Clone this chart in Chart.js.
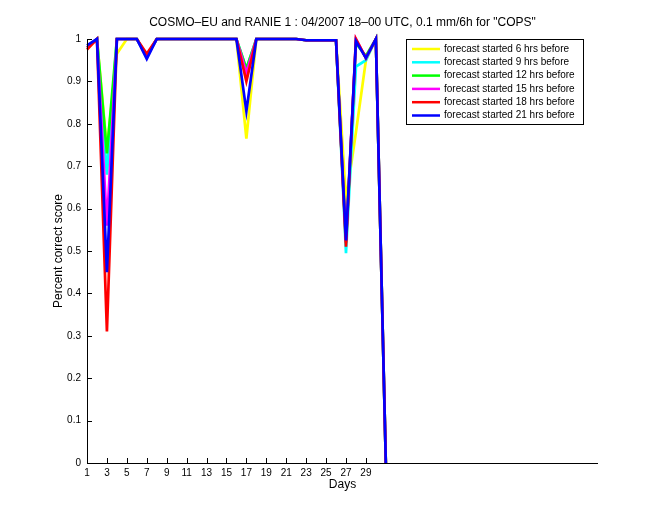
<!DOCTYPE html>
<html><head><meta charset="utf-8">
<script src="https://cdn.jsdelivr.net/npm/chart.js@4.4.1/dist/chart.umd.min.js"></script>
<style>html,body{margin:0;padding:0;background:#fff;}#wrap{width:660px;height:520px;}</style>
</head><body><div id="wrap"><canvas id="c" width="660" height="520"></canvas></div>
<script>
const days = [1,2,3,4,5,6,7,8,9,10,11,12,13,14,15,16,17,18,19,20,21,22,23,24,25,26,27,28,29,30,31];
const xTickValues = [1,3,5,7,9,11,13,15,17,19,21,23,25,27,29];
const yTickValues = [0,0.1,0.2,0.3,0.4,0.5,0.6,0.7,0.8,0.9,1];
const seriesLabels = ["forecast started 6 hrs before","forecast started 9 hrs before","forecast started 12 hrs before","forecast started 15 hrs before","forecast started 18 hrs before","forecast started 21 hrs before"];
const seriesColors = ["#ffff00","#00ffff","#00ff00","#ff00ff","#ff0000","#0000ff"];
const fc6h  = [0.98,1,0.74,0.965,1,1,0.96,1,1,1,1,1,1,1,1,1,0.765,1,1,1,1,1,0.997,0.997,0.997,0.997,0.62,0.78,0.95,1,0];
const fc9h  = [0.98,1,0.68,1,1,1,0.96,1,1,1,1,1,1,1,1,1,0.93,1,1,1,1,1,0.997,0.997,0.997,0.997,0.495,0.935,0.95,1,0];
const fc12h = [0.98,1,0.73,1,1,1,0.96,1,1,1,1,1,1,1,1,1,0.93,1,1,1,1,1,0.997,0.997,0.997,0.997,0.52,0.99,0.96,1,0];
const fc15h = [0.98,1,0.56,1,1,1,0.96,1,1,1,1,1,1,1,1,1,0.92,1,1,1,1,1,0.997,0.997,0.997,0.997,0.52,1,0.955,1,0];
const fc18h = [0.975,1,0.31,1,1,1,0.965,1,1,1,1,1,1,1,1,1,0.90,1,1,1,1,1,0.997,0.997,0.997,0.997,0.51,1,0.955,1,0];
const fc21h = [0.985,1,0.45,1,1,1,0.953,1,1,1,1,1,1,1,1,1,0.83,1,1,1,1,1,0.997,0.997,0.997,0.997,0.525,0.995,0.955,1,0];
const allSeries = [fc6h,fc9h,fc12h,fc15h,fc18h,fc21h];

const FONT = "'Liberation Sans', Arial, Helvetica, sans-serif";

const datasets = allSeries.map((s,i)=>({
  label: seriesLabels[i],
  data: s.map((v,j)=>({x:days[j],y:v})),
  borderColor: seriesColors[i],
  backgroundColor: seriesColors[i],
  borderWidth: 2.7,
  pointRadius: 0,
  tension: 0,
  fill: false,
  clip: false,
  order: allSeries.length - 1 - i
}));

const innerTicks = {
  id:'innerTicks',
  afterDraw(chart){
    const ctx = chart.ctx, ca = chart.chartArea;
    const xs = chart.scales.x, ys = chart.scales.y;
    ctx.save();
    ctx.strokeStyle = '#000'; ctx.lineWidth = 1;
    ctx.beginPath();
    ctx.moveTo(ca.left+0.5, ca.top); ctx.lineTo(ca.left+0.5, ca.bottom+0.5); ctx.lineTo(ca.right, ca.bottom+0.5);
    xTickValues.forEach(v=>{const p=Math.round(xs.getPixelForValue(v))+0.5; ctx.moveTo(p,ca.bottom); ctx.lineTo(p,ca.bottom-5);});
    yTickValues.forEach(v=>{const p=Math.round(ys.getPixelForValue(v))+0.5; ctx.moveTo(ca.left,p); ctx.lineTo(ca.left+5,p);});
    ctx.stroke();
    // legend
    const bx=406.5, by=39.5, bw=177, bh=85;
    ctx.fillStyle='#fff'; ctx.fillRect(bx,by,bw,bh);
    ctx.strokeRect(bx,by,bw,bh);
    ctx.font = "10px "+FONT; ctx.textBaseline='middle'; ctx.textAlign='left';
    chart.data.datasets.forEach((d,i)=>{
      const y = 49 + i*13.3;
      ctx.strokeStyle=d.borderColor; ctx.lineWidth=2.5;
      ctx.beginPath(); ctx.moveTo(412,y); ctx.lineTo(440,y); ctx.stroke();
      ctx.fillStyle='#000'; ctx.fillText(d.label, 444, y);
    });
    ctx.restore();
  }
};

new Chart(document.getElementById('c'), {
  type:'line',
  data:{datasets},
  options:{
    responsive:false, animation:false,
    layout:{padding:{left:51,right:62,top:0,bottom:0}},
    plugins:{
      legend:{display:false},
      tooltip:{enabled:false},
      title:{display:true, fullSize:false, text:'COSMO–EU and RANIE 1 : 04/2007 18–00 UTC, 0.1 mm/6h for "COPS"', color:'#000', font:{family:FONT,size:12,weight:'normal'}, padding:{top:15,bottom:9.6}}
    },
    scales:{
      x:{type:'linear', min:1, max:52.3,
        afterFit(s){s.height=57;},
        afterBuildTicks(s){s.ticks = xTickValues.map(v=>({value:v}));},
        grid:{display:false, drawTicks:false},
        border:{display:false},
        ticks:{color:'#000', font:{family:FONT,size:10}, padding:4, maxRotation:0, autoSkip:false, callback:(v)=>String(v)},
        title:{display:true, text:'Days', color:'#000', font:{family:FONT,size:12}, padding:{top:0,bottom:28}}
      },
      y:{type:'linear', min:0, max:1,
        afterFit(s){s.width=36;},
        afterBuildTicks(s){s.ticks = yTickValues.map(v=>({value:v}));},
        grid:{display:false, drawTicks:false},
        border:{display:false},
        ticks:{color:'#000', font:{family:FONT,size:10}, padding:6, callback:(v)=>String(Math.round(v*10)/10)},
        title:{display:true, text:'Percent correct score', color:'#000', font:{family:FONT,size:12}, padding:{top:0,bottom:0}}
      }
    }
  },
  plugins:[innerTicks]
});
</script></body></html>
